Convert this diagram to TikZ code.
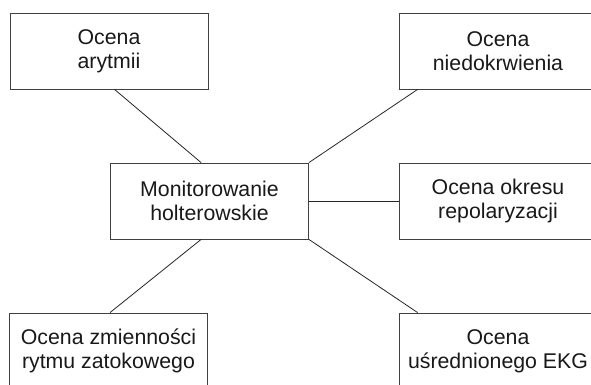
\documentclass[tikz,border=0pt]{standalone}
\usepackage{fontspec}
\setmainfont{Liberation Sans}
\begin{document}
\begin{tikzpicture}[x=1pt,y=-1pt,
  box/.style={draw=black!75,line width=0.9pt,minimum width=198pt,minimum height=76pt,
    align=center,inner sep=0pt,font=\fontsize{21.3}{24}\selectfont,text=black!90},
  link/.style={draw=black!85,line width=0.8pt}]
\useasboundingbox (0,0) rectangle (591,385);
\clip (0,0) rectangle (591,385);
\fill[white] (0,0) rectangle (591,385);
\node[box] (tl) at (109,51) {Ocena\\arytmii};
\node[box] (tr) at (498,51) {Ocena\\niedokrwienia};
\node[box] (c) at (209.5,201) {Monitorowanie\\holterowskie};
\node[box] (r) at (498,201) {Ocena okresu\\repolaryzacji};
\node[box] (bl) at (108.5,351) {Ocena zmienności\\rytmu zatokowego};
\node[box] (br) at (498,351) {Ocena\\uśrednionego EKG};
\draw[link] ([xshift=105pt]tl.south west) -- ([xshift=91pt]c.north west);
\draw[link] ([xshift=19pt]tr.south west) -- (c.north east);
\draw[link] (c.east) -- (r.west);
\draw[link] ([xshift=91pt]c.south west) -- ([xshift=101pt]bl.north west);
\draw[link] (c.south east) -- ([xshift=19pt]br.north west);
\end{tikzpicture}
\end{document}
